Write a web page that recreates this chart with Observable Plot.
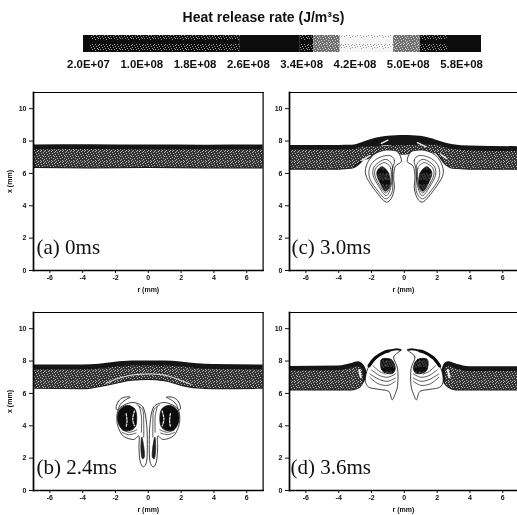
<!DOCTYPE html>
<html><head><meta charset="utf-8">
<script src="https://cdn.jsdelivr.net/npm/d3@7"></script>
<script src="https://cdn.jsdelivr.net/npm/@observablehq/plot@0.6"></script>
<style>
html,body{margin:0;padding:0;background:#fff;width:517px;height:515px;overflow:hidden}
#chart{position:relative;width:517px;height:515px}
#chart svg{position:absolute;display:block;background:transparent;filter:blur(.4px)}
</style></head><body><div id="chart"></div>
<script>
// ---- colour bar ----
const barTitle = "Heat release rate (J/m³s)";
const barLabels = ["2.0E+07","1.0E+08","1.8E+08","2.6E+08","3.4E+08","4.2E+08","5.0E+08","5.8E+08"];
const barTicks = [2e7,1e8,1.8e8,2.6e8,3.4e8,4.2e8,5e8,5.8e8];
const barStops = [1.25e7,2.3e7,2.48e8,3.38e8,3.58e8,3.98e8,4.78e8,5.18e8,5.59e8,6.1e8];
const barShades = ["k","dark","k","dark","mid","light","mid","dark","k"];

// ---- axes ----
const rTicks = [-6,-4,-2,0,2,4,6];
const xTicks = [0,2,4,6,8,10];

// ---- flame band: r, lower edge, upper edge ----
const bandA = {r:[-7,-3.5,0,3.5,7], lo:[6.3,6.28,6.3,6.28,6.28], hi:[7.75,7.77,7.75,7.74,7.75]};
const bandB = {r:[-7,-4,-3,-2,-1,0,1,2,3,4,7], lo:[6.25,6.22,6.35,6.55,6.75,6.8,6.72,6.45,6.27,6.22,6.25], hi:[7.75,7.75,7.8,7.92,8,8,8,7.94,7.83,7.78,7.75]};
const bandC = {r:[-7,-4,-3.2,-2.5,-2,-1,-0.5,0,0.5,1,2,2.5,3,4,7], lo:[6.19,6.2,6.25,6.74,7.42,7.72,7.63,7.63,7.66,7.73,7.15,6.5,6.25,6.2,6.19], hi:[7.73,7.73,7.74,7.93,8.1,8.29,8.33,8.35,8.33,8.29,8.04,7.88,7.77,7.69,7.65]};
const bandDL = {r:[-7,-4,-3.2,-2.8,-2.5,-2.33,-2.25], lo:[6.15,6.15,6.15,6.25,6.55,6.9,7.2], hi:[7.67,7.7,7.85,7.95,7.78,7.5,7.25]};
const bandDR = {r:[2.25,2.33,2.5,2.7,3.2,4,7], lo:[7.2,6.85,6.5,6.32,6.15,6.15,6.15], hi:[7.25,7.55,7.88,7.95,7.8,7.65,7.65]};

// ---- white seams inside the band: [r,x] ----
const seamB = [[-2.6,6.6],[-2,6.87],[-1,7.13],[0,7.2],[1,7.13],[2,6.8],[2.6,6.55]];
const seamC = [[[-2.6,6.8],[-2.1,7.1]],[[-1.4,7.85],[-1,8.05]],[[0.8,7.9],[1.3,7.65]],[[2.2,7.2],[2.6,6.9]]];
const seamD = [[[-2.75,7.45],[-2.65,7.0]],[[2.65,7.45],[2.75,7.0]]];

// ---- contours, left half [r,x]; right half is the mirror ----
const bOuter = [[-0.81,5.42],[-0.3,5.11],[-0.1,4.08],[-0.06,2.85],[-0.1,1.81],[-0.3,1.46],[-0.5,1.81],[-0.57,2.64],[-0.57,3.36],[-0.91,3.15],[-1.52,3.36],[-1.82,3.88],[-1.92,4.39],[-1.82,5.01],[-1.31,5.36]];
const bCore = [[-1.31,5.26],[-0.85,5.07],[-0.71,4.6],[-0.77,3.98],[-1.11,3.71],[-1.58,3.77],[-1.86,4.29],[-1.78,4.95]];
const bCap = [[-1.97,5.1],[-1.83,5.5],[-1.52,5.75],[-1.1,5.77],[-1.4,5.6],[-1.7,5.33],[-1.85,5]];
const bInner = [[[-0.75,3.55],[-1.2,3.45],[-1.6,3.6]],[[-0.7,3.75],[-1.15,3.6],[-1.6,3.75]],[[-0.7,5.3],[-0.35,5],[-0.28,4.2],[-0.28,3.3]],[[-0.55,5.2],[-0.42,4.6],[-0.42,3.6]]];
const bTail = [[-0.4,3.3],[-0.28,2.7],[-0.24,2.1],[-0.38,2.0],[-0.45,2.6]];
const bSpots = [[[-1.35,4.75],[-1.3,4.3],[-1.35,3.95]],[[-0.85,4.9],[-0.95,4.4],[-0.85,4.0]]];

const cOuter = [[-0.65,7.42],[-0.34,7.26],[-0.18,6.74],[-0.55,6.43],[-0.65,5.77],[-0.61,5.05],[-0.81,4.43],[-1.1,4.23],[-1.46,4.54],[-2.07,5.36],[-2.37,5.98],[-2.27,6.6],[-1.87,7.15],[-1.26,7.42]];
const cMid = [[-0.95,7.11],[-0.6,6.8],[-0.75,6.1],[-0.72,4.95],[-1.1,4.43],[-1.56,4.85],[-2.1,5.67],[-2.1,6.39],[-1.66,6.91]];
const cIn = [[-1.05,6.85],[-0.72,6.4],[-0.8,5.26],[-1.1,4.62],[-1.56,5.2],[-1.9,5.88],[-1.85,6.39],[-1.46,6.75]];
const cIn2 = [[-1.15,6.65],[-0.82,6.3],[-0.85,5.3],[-1.12,4.8],[-1.5,5.25],[-1.8,5.9],[-1.72,6.35],[-1.4,6.6]];
const cCore = [[-1.3,6.4],[-0.95,6],[-0.88,5.3],[-1.14,4.9],[-1.45,5.35],[-1.68,5.95],[-1.55,6.3]];

const dOuter = [[-0.2,8.7],[-0.65,8.25],[-0.41,7.53],[-0.41,6.49],[-0.59,5.88],[-0.75,5.61],[-0.95,6.12],[-1.56,6.25],[-2.17,6.39],[-2.37,6.8],[-2.23,7.53],[-1.76,8.19],[-0.95,8.66]];
const dCap = [[-2.15,7.7],[-1.76,8.2],[-1.2,8.55],[-0.95,8.62]];
const dTip = [[-0.95,8.62],[-0.5,8.72],[-0.22,8.68]];
const dInner = [[[-2.1,7],[-1.6,6.6],[-1,6.5],[-0.55,6.75]],[[-2.1,7.2],[-1.5,6.85],[-1,6.75],[-0.55,6.95]],[[-2,7.45],[-1.5,7.1],[-1,7],[-0.55,7.2]],[[-1.9,7.7],[-1.5,7.35],[-1.15,7.2]]];
const dCore = [[-1.4,8.1],[-0.8,8.1],[-0.55,7.6],[-0.7,7.25],[-1.1,7.25],[-1.4,7.5]];

const FONT = "'Liberation Sans',Arial,sans-serif";
const chart = document.getElementById("chart");

function tile(id, size, bg, fg, pts){
  return `<pattern id="${id}" width="${size}" height="${size}" patternUnits="userSpaceOnUse"><rect width="${size}" height="${size}" fill="${bg}"/>`+
    pts.map(([a,b])=>`<rect x="${a}" y="${b}" width="1" height="1" fill="${fg}"/>`).join("")+`</pattern>`;
}
const spots = [[0,0],[4,0],[7,0],[10,1],[2,1],[5,2],[8,2],[0,3],[3,3],[9,4],[6,4],[1,5],[4,5],[10,5],[7,6],[2,7],[5,7],[9,7],[0,8],[3,9],[7,9],[10,9],[1,10],[5,10],[8,10]];
const defsHtml = tile("hBand",11,"#333","#b4b4b4",spots)
  + tile("hDark",11,"#0e0e0e","#9a9a9a",spots.slice(0,15))
  + tile("hMid",11,"#707070","#d0d0d0",spots)
  + tile("hLight",11,"#f4f4f4","#a0a0a0",spots.slice(0,10));
const defsMark = () => { const g = d3.create("svg:defs"); g.html(defsHtml); return g.node(); };

function toRows(b){ return b.r.map((r,i)=>({r, lo:b.lo[i], hi:b.hi[i]})); }
function both(list){
  const rows=[];
  list.forEach((pts,i)=>{
    pts.forEach(([r,x])=>rows.push({r,x,id:"L"+i}));
    pts.forEach(([r,x])=>rows.push({r:-r,x,id:"R"+i}));
  });
  return rows;
}

function bandMarks(b){
  const rows = toRows(b);
  const wide = rows.filter(d=>d.hi-d.lo>0.8);
  return [
    Plot.areaY(rows,{x:"r",y1:"lo",y2:"hi",fill:"#151515",curve:"monotone-x"}),
    Plot.areaY(wide,{x:"r",y1:d=>d.lo+0.06,y2:d=>d.hi-0.3,fill:"url(#hBand)",curve:"monotone-x"})
  ];
}
const closed = (list,o)=>Plot.line(both(list),{x:"r",y:"x",z:"id",curve:"cardinal-closed",...o});
const open = (list,o)=>Plot.line(both(list),{x:"r",y:"x",z:"id",curve:"catmull-rom",...o});

function panel(cfg){
  const right = cfg.side==="R";
  const marks = [
    defsMark,
    ...cfg.marks,
    Plot.frame({anchor:"left",stroke:"#000",strokeWidth:1.7}),
    Plot.frame({anchor:"top",stroke:"#000",strokeWidth:1.2}),
    Plot.frame({anchor:"bottom",stroke:"#000",strokeWidth:1.5}),
    ...(right?[]:[Plot.frame({anchor:"right",stroke:"#000",strokeWidth:1.2})]),
    Plot.axisX({ticks:rTicks,tickSize:3,tickPadding:2,tickFormat:d=>String(d),label:"r (mm)",labelArrow:"none",labelAnchor:"center",labelOffset:21}),
    Plot.axisY({ticks:xTicks,tickSize:4,tickPadding:3,tickFormat:d=>String(d),label:right?null:"x (mm)",labelArrow:"none",labelAnchor:"center",labelOffset:26}),
    Plot.text([cfg.label],{x:-7,y:cfg.labelY,dx:cfg.labelDx,text:d=>d,textAnchor:"start",lineAnchor:"bottom",fontFamily:"'Liberation Serif','Times New Roman',serif",fontSize:21,fontWeight:"normal",fill:"#111"})
  ];
  const svg = Plot.plot({
    width: right?252:265, height:210,
    marginLeft: right?24:33, marginRight: right?0:2.4,
    marginTop:7, marginBottom:25,
    x:{domain: right?[-7,6.9]:[-7,7], label:null},
    y:{domain:[0,11], label:null},
    style:{fontFamily:FONT,fontSize:"7px",fontWeight:"bold",color:"#111",background:"transparent"},
    marks
  });
  svg.style.left = cfg.left+"px"; svg.style.top = cfg.top+"px";
  chart.appendChild(svg);
}

// colour bar
const shadeFill = {k:"#0c0c0c",dark:"url(#hDark)",mid:"url(#hMid)",light:"url(#hLight)"};
const barSegs = barShades.map((s,i)=>({a:barStops[i],b:barStops[i+1],f:shadeFill[s]}));
const bar = Plot.plot({
  width:517,height:80,marginLeft:83,marginRight:36,marginTop:35,marginBottom:28,
  x:{domain:[1.25e7,6.1e8],axis:null},
  y:{domain:[0,1],axis:null},
  style:{fontFamily:FONT,color:"#111",background:"transparent"},
  marks:[
    defsMark,
    ...barSegs.map(s=>Plot.rect([s],{x1:"a",x2:"b",y1:0,y2:1,fill:s.f})),
    Plot.text(barLabels,{x:(d,i)=>barTicks[i],y:0,dy:12,text:d=>d,fontSize:11.4,fontWeight:"bold",fill:"#111"}),
    Plot.text([barTitle],{frameAnchor:"top",dx:-19,dy:-23,text:d=>d,fontSize:14,fontWeight:"bold",fill:"#111"})
  ]
});
bar.style.left="0px";bar.style.top="0px";
chart.appendChild(bar);

panel({side:"L",left:0,top:85,label:"(a) 0ms",labelY:1,labelDx:3,marks:[...bandMarks(bandA)]});

panel({side:"R",left:265,top:85,label:"(c) 3.0ms",labelY:1,labelDx:2,marks:[
  ...bandMarks(bandC),
  ...seamC.map(s=>Plot.line(s,{x:"0",y:"1",stroke:"#eee",strokeWidth:1.4})),
  closed([cOuter],{fill:"#fff",stroke:"#111",strokeWidth:.8}),
  closed([cMid,cIn,cIn2],{stroke:"#111",strokeWidth:.7}),
  closed([cCore],{fill:"url(#hDark)",stroke:"#111",strokeWidth:.7})
]});

panel({side:"L",left:0,top:305,label:"(b) 2.4ms",labelY:1.05,labelDx:3,marks:[
  ...bandMarks(bandB),
  Plot.line(seamB,{x:"0",y:"1",stroke:"#eee",strokeWidth:1,curve:"catmull-rom"}),
  closed([bOuter],{fill:"#fff",stroke:"#111",strokeWidth:.8}),
  closed([bCap],{fill:"#fff",stroke:"#111",strokeWidth:.8}),
  closed([bCore],{fill:"#0c0c0c",stroke:"#111",strokeWidth:.8}),
  open(bInner,{stroke:"#111",strokeWidth:.7}),
  closed([bTail],{fill:"#222",stroke:"#111",strokeWidth:.7}),
  open(bSpots,{stroke:"#ddd",strokeWidth:1.3,strokeDasharray:"2 1.5"})
]});

panel({side:"R",left:265,top:305,label:"(d) 3.6ms",labelY:1,labelDx:1,marks:[
  ...bandMarks(bandDL),
  ...bandMarks(bandDR),
  ...seamD.map(s=>Plot.line(s,{x:"0",y:"1",stroke:"#eee",strokeWidth:2})),
  closed([dOuter],{fill:"#fff",stroke:"#111",strokeWidth:.8}),
  open(dInner,{stroke:"#111",strokeWidth:.7}),
  closed([dCore],{fill:"url(#hDark)",stroke:"#111",strokeWidth:.7}),
  open([dCap],{stroke:"#0a0a0a",strokeWidth:3.2}),
  open([dTip],{stroke:"#111",strokeWidth:1.6})
]});
</script></body></html>
